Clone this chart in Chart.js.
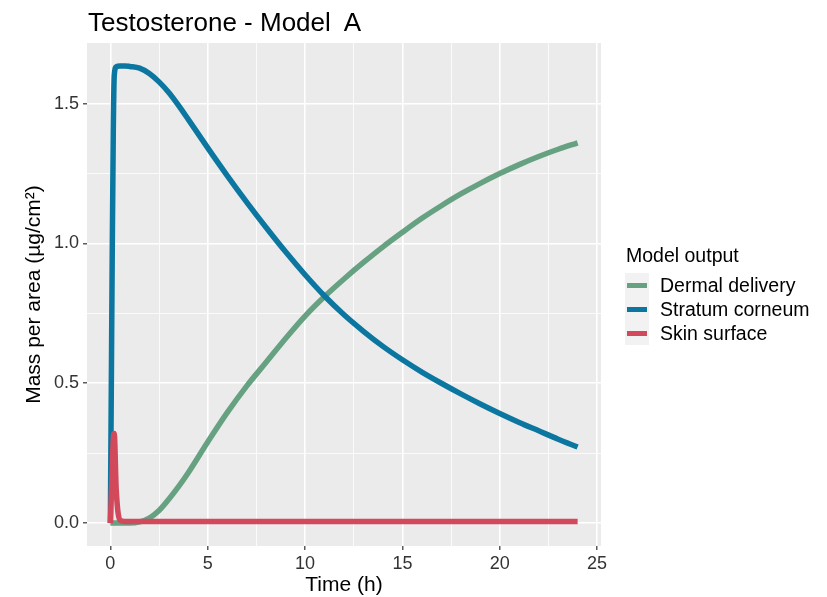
<!DOCTYPE html>
<html lang="en">
<head>
  <meta charset="UTF-8" />
  <title>Testosterone - Model A</title>
  <script src="https://cdn.jsdelivr.net/npm/chart.js"></script>
  <style>
    body {
      margin: 0;
      background: #ffffff;
      font-family: 'Liberation Sans', Arial, sans-serif;
    }
    #wrap {
      position: relative;
      width: 827px;
      height: 597px;
    }
    #title {
      position: absolute;
      left: 88px;
      top: 9px;
      font-size: 26px;
      line-height: 26px;
      color: #000;
      white-space: pre;
    }
    #legend {
      position: absolute;
      left: 625px;
      top: 243px;
      color: #000;
    }
    .lg-title {
      font-size: 19.5px;
      line-height: 24px;
      height: 30px;
      margin-left: 1px;
    }
    .lg-row {
      display: flex;
      align-items: center;
      height: 24px;
    }
    .lg-key {
      width: 24px;
      height: 24px;
      background: #F2F2F2;
      position: relative;
    }
    .lg-key span {
      position: absolute;
      left: 2px;
      top: 9.5px;
      width: 20px;
      height: 5px;
    }
    .lg-text {
      margin-left: 11px;
      font-size: 19.5px;
    }
  </style>
</head>
<body>

<div id="wrap">
  <canvas id="chart" width="827" height="597"></canvas>
  <div id="title">Testosterone - Model  A</div>
  <div id="legend">
    <div class="lg-title">Model output</div>
    <div id="legendItems"></div>
  </div>
</div>

<script>
// time points of the model output (h)
const timeH = [0, 0.05, 0.1, 0.15, 0.2, 0.3, 0.5, 0.75, 1, 1.5, 2, 2.5, 3, 3.5, 4,
  5, 6, 7, 8, 9, 10, 11, 12, 13, 14, 15, 16, 17, 18, 19, 20, 21, 22, 23, 24];

// mass per area (µg/cm²)
const dermalDelivery = [0, 0, 0, 0, 0, 0, 0, 0, 0, 0.004, 0.018, 0.045, 0.085, 0.13, 0.18,
  0.29, 0.395, 0.49, 0.575, 0.66, 0.74, 0.81, 0.873, 0.932, 0.988, 1.04, 1.09, 1.135, 1.177, 1.215,
  1.25, 1.282, 1.311, 1.337, 1.36];
const stratumCorneum = [0, 0.5, 1.0, 1.4, 1.6, 1.632, 1.635, 1.635, 1.633, 1.627, 1.608, 1.578, 1.54, 1.494, 1.444,
  1.342, 1.243, 1.148, 1.057, 0.97, 0.888, 0.812, 0.745, 0.686, 0.632, 0.584, 0.54, 0.5, 0.462, 0.426,
  0.392, 0.36, 0.33, 0.3, 0.272];
const skinSurface = [0, 0.1, 0.2, 0.3, 0.32, 0.12, 0.01, 0.006, 0.006, 0.006, 0.006, 0.006, 0.006, 0.006, 0.006,
  0.006, 0.006, 0.006, 0.006, 0.006, 0.006, 0.006, 0.006, 0.006, 0.006, 0.006, 0.006, 0.006, 0.006, 0.006,
  0.006, 0.006, 0.006, 0.006, 0.006];

const seriesNames = ['Dermal delivery', 'Stratum corneum', 'Skin surface'];
const seriesColors = ['#66a182', '#0b77a0', '#d1495b'];
const seriesValues = [dermalDelivery, stratumCorneum, skinSurface];

// major + minor grid positions
const xTicks = [0, 2.5, 5, 7.5, 10, 12.5, 15, 17.5, 20, 22.5, 25];
const yTicks = [0, 0.25, 0.5, 0.75, 1.0, 1.25, 1.5];
const xMajor = v => v % 5 === 0;
const yMajor = v => Math.abs(v * 2 - Math.round(v * 2)) < 1e-9;

// grey panel behind the grid
const panelBg = {
  id: 'panelBg',
  beforeDraw(chart) {
    const { ctx, chartArea: a } = chart;
    ctx.save();
    ctx.fillStyle = '#EBEBEB';
    ctx.fillRect(a.left, a.top, a.right - a.left, a.bottom - a.top);
    ctx.restore();
  }
};

const datasets = seriesValues.map((vals, k) => ({
  label: seriesNames[k],
  data: timeH.map((t, i) => ({ x: t, y: vals[i] })),
  borderColor: seriesColors[k],
  backgroundColor: seriesColors[k],
  borderWidth: 5.5,
  borderJoinStyle: 'round',
  borderCapStyle: 'butt',
  cubicInterpolationMode: 'monotone',
  pointRadius: 0,
  fill: false,
  order: 2 - k
}));

const tickFont = { family: "'Liberation Sans', Arial, sans-serif", size: 18 };
const titleFont = { family: "'Liberation Sans', Arial, sans-serif", size: 21, lineHeight: 1 };

new Chart(document.getElementById('chart'), {
  type: 'line',
  data: { datasets },
  plugins: [panelBg],
  options: {
    responsive: false,
    devicePixelRatio: 1,
    animation: false,
    layout: { padding: { left: 0, right: 226, top: 43, bottom: 0 } },
    plugins: {
      legend: { display: false },
      tooltip: { enabled: false }
    },
    scales: {
      x: {
        type: 'linear',
        min: -1.2,
        max: 25.2,
        afterBuildTicks: s => { s.ticks = xTicks.map(v => ({ value: v })); },
        afterFit: s => { s.height = 51; },
        border: { display: false },
        grid: {
          color: '#ffffff',
          lineWidth: c => xMajor(c.tick.value) ? 1.6 : 0.8,
          drawTicks: true,
          tickLength: 4,
          tickWidth: 1.2,
          tickColor: c => xMajor(c.tick.value) ? '#333333' : 'rgba(0,0,0,0)'
        },
        ticks: {
          autoSkip: false,
          maxRotation: 0,
          padding: 3,
          color: '#333333',
          font: tickFont,
          callback: v => xMajor(v) ? String(v) : ''
        },
        title: {
          display: true,
          text: 'Time (h)',
          color: '#000000',
          font: titleFont,
          padding: { top: 0, bottom: 1 }
        }
      },
      y: {
        type: 'linear',
        min: -0.082,
        max: 1.717,
        afterBuildTicks: s => { s.ticks = yTicks.map(v => ({ value: v })); },
        afterFit: s => { s.width = 87; },
        border: { display: false },
        grid: {
          color: '#ffffff',
          lineWidth: c => yMajor(c.tick.value) ? 1.6 : 0.8,
          drawTicks: true,
          tickLength: 4,
          tickWidth: 1.2,
          tickColor: c => yMajor(c.tick.value) ? '#333333' : 'rgba(0,0,0,0)'
        },
        ticks: {
          autoSkip: false,
          padding: 4,
          color: '#333333',
          font: tickFont,
          callback: v => yMajor(v) ? v.toFixed(1) : ''
        },
        title: {
          display: true,
          text: 'Mass per area (µg/cm²)',
          color: '#000000',
          font: titleFont,
          padding: { top: 24, bottom: 0 }
        }
      }
    }
  }
});

// legend keys built from the dataset labels and colours
const items = document.getElementById('legendItems');
seriesNames.forEach((name, k) => {
  const row = document.createElement('div');
  row.className = 'lg-row';
  row.innerHTML = `<div class="lg-key"><span style="background:${seriesColors[k]}"></span></div>` +
    `<div class="lg-text">${name}</div>`;
  items.appendChild(row);
});
</script>

</body>
</html>
